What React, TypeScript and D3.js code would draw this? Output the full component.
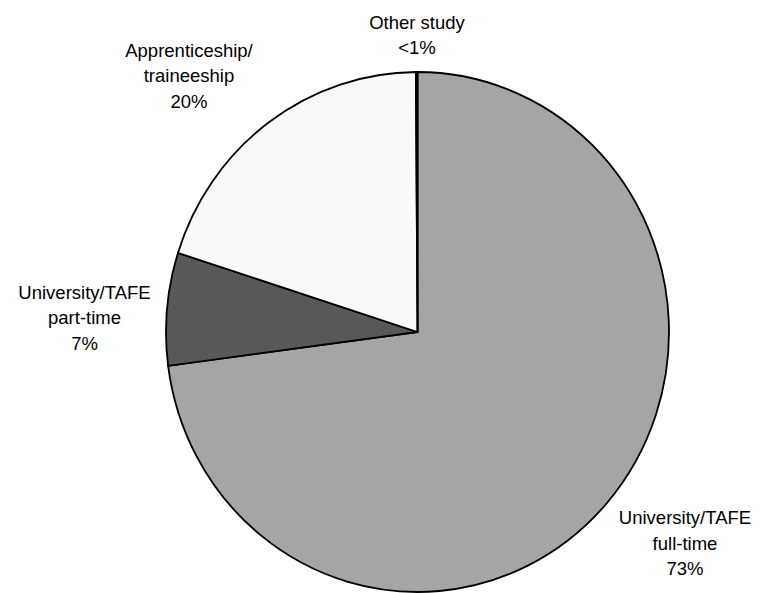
import React from "react";
import * as d3 from "d3";

// Study type shares (per cent), clockwise from 12 o'clock
const categories = [
  "University/TAFE full-time",
  "University/TAFE part-time",
  "Apprenticeship/ traineeship",
  "Other study",
];
const values = [73, 7, 20, 0.1];
const valueLabels = ["73%", "7%", "20%", "<1%"];
const labelLines = [
  ["University/TAFE", "full-time"],
  ["University/TAFE", "part-time"],
  ["Apprenticeship/", "traineeship"],
  ["Other study"],
];
const fills = ["#a5a5a5", "#585858", "#f9f9f9", "#ffffff"];

// Label block anchors (centre x, first baseline y)
const labelAnchors: [number, number][] = [
  [685, 524],
  [84.5, 298.5],
  [189, 56.5],
  [417, 28.5],
];

const W = 760;
const H = 593;
const cx = 417.5;
const cy = 332;
const rx = 251.5;
const ry = 260;
const lineGap = 25.5;

export default function App() {
  const pie = d3
    .pie<number>()
    .sort(null)
    .value((d) => d)
    .startAngle(0)
    .endAngle(2 * Math.PI);
  const arcs = pie(values);
  const arc = d3.arc<d3.PieArcDatum<number>>().innerRadius(0).outerRadius(rx);

  return (
    <svg
      width={W}
      height={H}
      style={{ position: "absolute", left: 0, top: 0, background: "#fff" }}
      fontFamily="'Liberation Sans', Arial, sans-serif"
    >
      <g transform={`translate(${cx},${cy}) scale(1,${ry / rx})`}>
        {arcs.map((a, i) => (
          <path
            key={categories[i]}
            d={arc(a) || ""}
            fill={fills[i]}
            stroke="#000"
            strokeWidth={1.8}
            strokeLinejoin="miter"
            vectorEffect="non-scaling-stroke"
          />
        ))}
      </g>
      {labelLines.map((lines, i) => {
        const [x, y] = labelAnchors[i];
        const all = [...lines, valueLabels[i]];
        return (
          <text key={categories[i]} textAnchor="middle" fontSize={18.5} fill="#000">
            {all.map((t, j) => (
              <tspan key={j} x={x} y={y + j * lineGap}>
                {t}
              </tspan>
            ))}
          </text>
        );
      })}
    </svg>
  );
}
